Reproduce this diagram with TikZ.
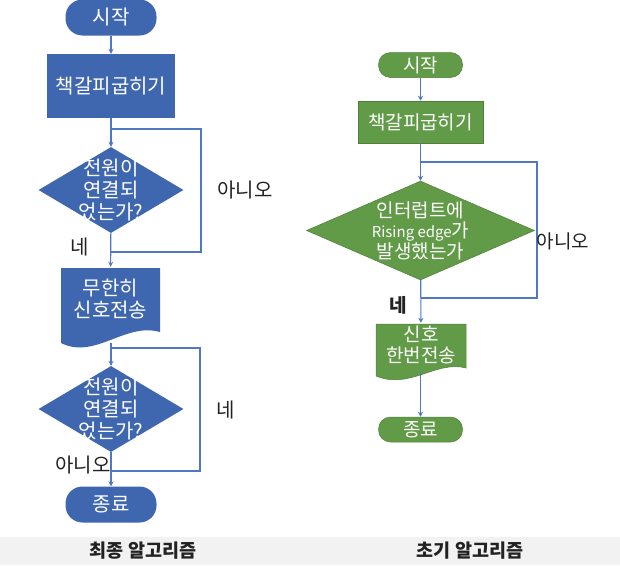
\documentclass[tikz,border=0pt]{standalone}
\usepackage{fontspec}
\setmainfont{Noto Sans CJK KR}
\usetikzlibrary{arrows.meta,shapes.geometric,backgrounds}
\definecolor{fblue}{HTML}{3F67B0}
\definecolor{fgreen}{HTML}{629B48}
\definecolor{gedge}{HTML}{4F8038}
\definecolor{lblue}{HTML}{4F78C4}
\definecolor{capbg}{HTML}{F2F2F2}
\definecolor{labtxt}{HTML}{222222}
\begin{document}
\begin{tikzpicture}[x=1pt,y=-1pt,
  bfont/.style={font=\fontsize{20}{22}\selectfont},
  gfont/.style={font=\fontsize{19}{20.5}\selectfont},
  bterm/.style={bfont, fill=fblue, text=white, rounded corners=17pt, minimum width=91pt, minimum height=36pt, inner sep=0pt},
  gterm/.style={gfont, fill=fgreen, draw=gedge, line width=0.5pt, text=white, rounded corners=12pt, minimum width=84pt, minimum height=25pt, inner sep=0pt},
  bproc/.style={bfont, fill=fblue, text=white, minimum width=128pt, minimum height=64pt, inner sep=0pt},
  gproc/.style={gfont, fill=fgreen, draw=gedge, line width=0.5pt, text=white, minimum width=125pt, minimum height=42pt, inner sep=0pt},
  bdia/.style={diamond, fill=fblue, inner sep=0pt, minimum width=145pt, minimum height=86pt},
  gdia/.style={diamond, fill=fgreen, draw=gedge, line width=0.5pt, inner sep=0pt, minimum width=228pt, minimum height=99pt},
  docn/.style={text=white, align=center, inner sep=0pt},
  conn/.style={draw=lblue, line width=1.1pt},
  arr/.style={conn, -{Stealth[length=5pt,width=5pt]}},
  lab/.style={text=labtxt, font=\fontsize{20}{22}\selectfont, inner sep=0pt},
  labr/.style={text=labtxt, font=\fontsize{19}{20}\selectfont, inner sep=0pt},
  captext/.style={text=labtxt, font=\fontsize{18.5}{20}\selectfont\bfseries, inner sep=0pt}
]
\useasboundingbox (0,0) rectangle (620,565);
\fill[white] (0,0) rectangle (620,565);
\fill[capbg] (0,537) rectangle (620,565);

% ---------- left flowchart ----------
\node[bterm] (s1) at (111,17.5) {시작};
\node[bproc] (p1) at (111,86) {책갈피굽히기};
\node[bdia, label={[text=white, align=center, bfont]center:전원이\\연결되\\었는가?}] (d1) at (111,190) {};
\fill[fblue] (61,268) -- (160,268) -- (160,332) .. controls (125,322) and (95,360) .. (61,343) -- cycle;
\node[docn, bfont, minimum width=99pt, minimum height=64pt] (m1) at (110.5,299) {무한히\\신호전송};
\coordinate (m1w) at (111,343);
\node[bdia, label={[text=white, align=center, bfont]center:전원이\\연결되\\었는가?}] (d2) at (111,409) {};
\node[bterm] (e1) at (111,504.5) {종료};

\coordinate (j1t) at (111,129);
\coordinate (k1t) at (201,129);
\coordinate (k1b) at (201,252);
\coordinate (j1b) at (111,252);
\coordinate (j2t) at (111,348);
\coordinate (k2t) at (200,348);
\coordinate (k2b) at (200,471);
\coordinate (j2b) at (111,471);

\draw[arr] (s1) -- (p1);
\draw[arr] (p1) -- (d1);
\draw[arr] (d1) -- (m1);
\draw[conn] (j1b) -- (k1b) -- (k1t) -- (j1t);
\draw[arr] (m1w) -- (d2);
\draw[arr] (d2) -- (e1);
\draw[conn] (j2b) -- (k2b) -- (k2t) -- (j2t);

\node[lab] (n1) at (245,190) {아니오};
\node[lab] (y1) at (80,247) {네};
\node[lab] (y2) at (226,410) {네};
\node[lab] (n2) at (83,465) {아니오};

% ---------- right flowchart ----------
\node[gterm] (s2) at (420.5,65) {시작};
\node[gproc] (p2) at (420.5,122) {책갈피굽히기};
\node[gdia, label={[text=white, align=center, gfont]center:인터럽트에\\{\fontsize{15}{20.5}\selectfont Rising edge}가\\발생했는가}] (d3) at (420.5,230.5) {};
\filldraw[fill=fgreen, draw=gedge, line width=0.5pt] (376,324) -- (466,324) -- (466,368) .. controls (436,360) and (410,390) .. (376,376) -- cycle;
\node[docn, gfont, minimum width=90pt, minimum height=44pt] (m2) at (421,345) {신호\\한번전송};
\coordinate (m2w) at (420.5,372);
\node[gterm] (e2) at (420.5,429.5) {종료};

\coordinate (j3t) at (420.5,162);
\coordinate (k3t) at (537,162);
\coordinate (k3b) at (537,298);
\coordinate (j3b) at (420.5,298);

\draw[arr] (s2) -- (p2);
\draw[arr] (p2) -- (d3);
\draw[arr] (d3) -- (m2);
\draw[conn] (j3b) -- (k3b) -- (k3t) -- (j3t);
\draw[arr] (m2w) -- (e2);

\node[labr] (n3) at (563,241) {아니오};
\node[labr, font=\fontsize{19}{20}\selectfont\bfseries] (y3) at (398,305) {네};

% ---------- captions ----------
\node[captext] (c1) at (143,551) {최종 알고리즘};
\node[captext] (c2) at (470,551) {초기 알고리즘};
\end{tikzpicture}
\end{document}
